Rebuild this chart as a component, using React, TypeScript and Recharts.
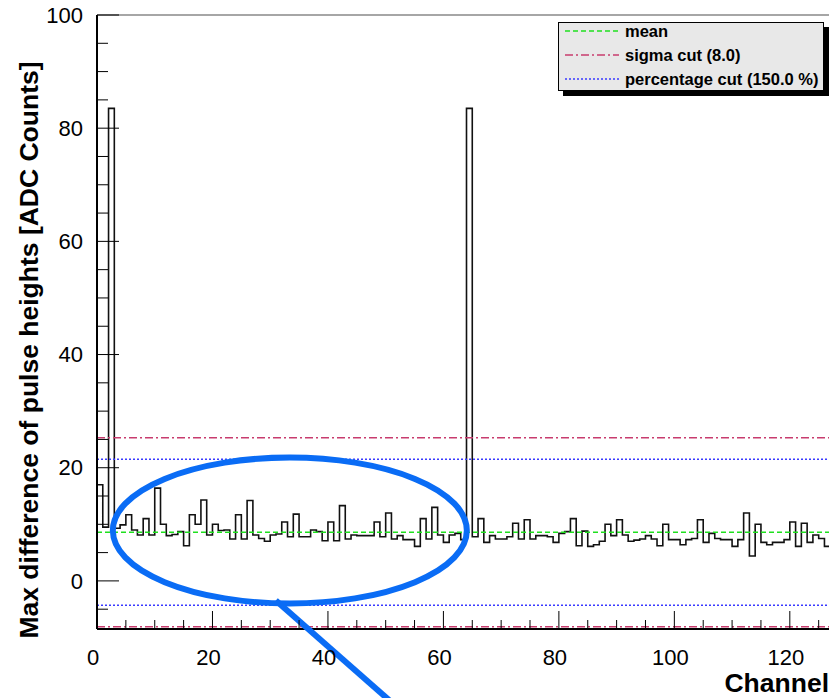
import React from 'react';
import { ComposedChart, Line, XAxis, YAxis, ReferenceLine, ReferenceDot } from 'recharts';

// Max difference of pulse heights per channel (bins 0..127)
const channelValues: number[] = [
  17.0, 9.5, 83.5, 9.3, 9.9, 11.7, 9.0, 8.1, 11.0, 8.1,
  16.4, 10.0, 8.0, 8.2, 8.7, 6.2, 11.7, 10.0, 14.3, 8.1,
  10.0, 8.9, 9.0, 7.4, 11.7, 7.4, 14.2, 8.1, 7.5, 7.0,
  8.1, 8.3, 10.4, 7.8, 11.8, 7.8, 7.8, 9.0, 8.7, 7.1,
  10.4, 7.1, 13.3, 7.4, 8.1, 8.0, 8.0, 8.0, 10.4, 7.8,
  12.0, 7.4, 8.0, 7.3, 7.3, 6.1, 11.0, 7.4, 13.0, 8.1,
  6.8, 8.1, 8.4, 7.3, 83.5, 7.8, 11.0, 6.8, 8.0, 7.4,
  7.4, 7.8, 10.2, 7.4, 10.8, 7.4, 8.0, 8.0, 7.8, 6.8,
  8.4, 8.7, 11.0, 6.2, 8.8, 6.1, 6.4, 7.0, 10.0, 8.0,
  10.8, 8.1, 7.0, 7.2, 7.4, 8.0, 7.4, 6.2, 10.0, 7.3,
  7.3, 6.4, 7.3, 7.5, 10.8, 6.8, 8.4, 7.5, 7.3, 7.3,
  6.1, 7.3, 12.0, 4.4, 10.0, 6.8, 6.4, 6.8, 6.8, 7.3,
  10.4, 6.1, 10.2, 6.8, 8.1, 7.5, 6.1, 10.4,
];

const xTicks: number[] = [0, 5, 10, 15, 20, 25, 30, 35, 40, 45, 50, 55, 60, 65, 70, 75, 80, 85, 90, 95, 100, 105, 110, 115, 120, 125];
const xLabelTicks: number[] = [0, 20, 40, 60, 80, 100, 120];
const yTicks: number[] = [-5, 0, 5, 10, 15, 20, 25, 30, 35, 40, 45, 50, 55, 60, 65, 70, 75, 80, 85, 90, 95, 100];
const yLabelTicks: number[] = [0, 20, 40, 60, 80, 100];

const meanValue = 8.6;
const sigmaCutValues: number[] = [25.3, -8.1];
const percentageCutValues: number[] = [21.5, -4.3];

const legendLabels: string[] = ['mean', 'sigma cut (8.0)', 'percentage cut (150.0 %)'];
const legendColors: string[] = ['#1fe01f', '#c83c6e', '#3a3aff'];
const legendDashes: string[] = ['5 3', '8 3 2 3', '2 2'];

const xTitle = 'Channel';
const yTitle = 'Max difference of pulse heights [ADC Counts]';

// annotation ellipse centre in data coordinates
const highlightCenter = { channel: 33.4, value: 8.9 };

const FONT = "'Liberation Sans', Arial, Helvetica, sans-serif";

const histData = channelValues
  .map((v, i) => ({ channel: i, value: v }))
  .concat([{ channel: channelValues.length, value: channelValues[channelValues.length - 1] }]);

const XTick = (props: any) => {
  const { x, y, payload } = props;
  const v = payload.value;
  const major = xLabelTicks.includes(v);
  const axisY = y - 28;
  return (
    <g>
      <line x1={x} x2={x} y1={axisY} y2={axisY - (major ? 18 : 9)} stroke="#000" strokeWidth={1} />
      {major && (
        <text x={x - 4} y={y} dy="0.35em" textAnchor="middle" fontSize={22} fontFamily={FONT} fill="#000">
          {v}
        </text>
      )}
    </g>
  );
};

const YTick = (props: any) => {
  const { x, y, payload } = props;
  const v = payload.value;
  const major = yLabelTicks.includes(v);
  const axisX = x + 14;
  return (
    <g>
      <line x1={axisX} x2={axisX + (major ? 22 : 11)} y1={y} y2={y} stroke="#000" strokeWidth={1} />
      {major && (
        <text x={x} y={y} dy="0.35em" textAnchor="end" fontSize={22} fontFamily={FONT} fill="#000">
          {v}
        </text>
      )}
    </g>
  );
};

const EllipseMark = (props: any) => {
  const { cx, cy } = props;
  return (
    <g>
      <ellipse cx={cx} cy={cy} rx={177} ry={73} fill="none" stroke="#0a6cf5" strokeWidth={6} />
      <line x1={cx - 14} y1={cy + 70} x2={cx + 102} y2={cy + 172} stroke="#0a6cf5" strokeWidth={6} />
    </g>
  );
};

export default function App() {
  return (
    <div style={{ position: 'fixed', left: 0, top: 0, width: 829, height: 698, overflow: 'hidden', background: '#fff' }}>
      <ComposedChart width={860} height={698} data={histData} margin={{ top: 15, right: 24, bottom: 0, left: 0 }}>
        <XAxis
          dataKey="channel"
          type="number"
          domain={[0, 128]}
          ticks={xTicks}
          interval={0}
          allowDataOverflow
          height={69}
          tickLine={false}
          tickSize={0}
          tickMargin={28}
          axisLine={{ stroke: '#000', strokeWidth: 2 }}
          tick={(p: any) => <XTick {...p} />}
        />
        <YAxis
          type="number"
          domain={[-8.5, 100]}
          ticks={yTicks}
          interval={0}
          allowDataOverflow
          width={97}
          tickLine={false}
          tickSize={0}
          tickMargin={14}
          axisLine={{ stroke: '#000', strokeWidth: 2 }}
          tick={(p: any) => <YTick {...p} />}
        />
        <ReferenceLine y={100} stroke="#888" strokeWidth={1.5} />
        <Line
          type="stepAfter"
          dataKey="value"
          stroke="#111"
          strokeWidth={1.6}
          dot={false}
          isAnimationActive={false}
        />
        <ReferenceLine y={meanValue} stroke={legendColors[0]} strokeWidth={1.5} strokeDasharray={legendDashes[0]} />
        {sigmaCutValues.map((v) => (
          <ReferenceLine key={'s' + v} y={v} stroke={legendColors[1]} strokeWidth={1.5} strokeDasharray={legendDashes[1]} />
        ))}
        {percentageCutValues.map((v) => (
          <ReferenceLine key={'p' + v} y={v} stroke={legendColors[2]} strokeWidth={1.5} strokeDasharray={legendDashes[2]} />
        ))}
        <ReferenceDot x={highlightCenter.channel} y={highlightCenter.value} r={0} shape={(p: any) => <EllipseMark {...p} />} />
      </ComposedChart>

      <svg width={829} height={698} style={{ position: 'absolute', left: 0, top: 0, pointerEvents: 'none' }}>
        <text
          transform="translate(38,350) rotate(-90)"
          textAnchor="middle"
          fontSize={26.5}
          fontWeight="bold"
          fontFamily={FONT}
          fill="#000"
        >
          {yTitle}
        </text>
        <text x={829} y={692} textAnchor="end" fontSize={26.5} fontWeight="bold" fontFamily={FONT} fill="#000">
          {xTitle}
        </text>
      </svg>

      <div
        style={{
          position: 'absolute',
          left: 558,
          top: 22,
          width: 264,
          height: 67,
          background: '#e8e8e8',
          border: '1px solid #000',
          boxShadow: '5px 5px 0 #000',
          fontFamily: FONT,
        }}
      >
        {legendLabels.map((lab, i) => (
          <div key={lab} style={{ position: 'absolute', left: 0, top: i * 24 - 4, height: 24, width: 264 }}>
            <svg width={60} height={24} style={{ position: 'absolute', left: 6, top: 0 }}>
              <line x1={0} x2={54} y1={12} y2={12} stroke={legendColors[i]} strokeWidth={1.5} strokeDasharray={legendDashes[i]} />
            </svg>
            <span
              style={{
                position: 'absolute',
                left: 66,
                top: 0,
                lineHeight: '24px',
                fontSize: 16.5,
                fontWeight: 'bold',
                whiteSpace: 'nowrap',
                color: '#000',
              }}
            >
              {lab}
            </span>
          </div>
        ))}
      </div>
    </div>
  );
}
